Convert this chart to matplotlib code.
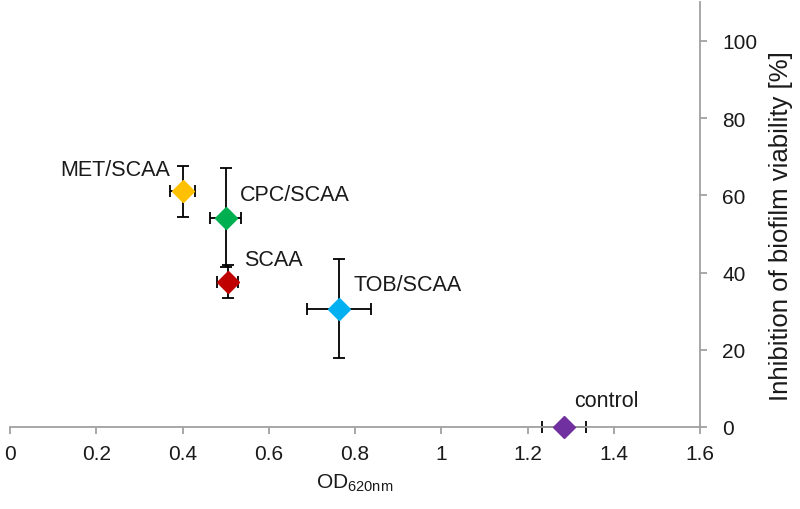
import matplotlib
matplotlib.use("Agg")
import matplotlib.pyplot as plt

plt.rcParams['font.family'] = ['Liberation Sans', 'DejaVu Sans']

labels = ["MET/SCAA", "CPC/SCAA", "SCAA", "TOB/SCAA", "control"]
od = [0.40, 0.50, 0.505, 0.763, 1.285]
od_err = [0.03, 0.036, 0.024, 0.075, 0.051]
inhib = [61.0, 54.2, 37.6, 30.6, 0.0]
inhib_err = [6.6, 12.8, 4.3, 12.8, 0.0]
colors = ["#FFC000", "#00B050", "#C00000", "#00B0F0", "#7030A0"]
# label offsets in pixels: (dx, dy, horizontal alignment)
label_offsets = [(-12, 22, 'right'), (14, 23, 'left'), (16, 22, 'left'), (14, 24, 'left'), (10, 26, 'left')]

FS = 15
fig = plt.figure(figsize=(8, 5.1), dpi=100)
ax = fig.add_axes([0.0125, 0.1608, 0.8625, 0.833])

for x, xe, y, ye, c in zip(od, od_err, inhib, inhib_err, colors):
    ax.errorbar(x, y, xerr=xe, yerr=ye if ye > 0 else None, fmt='none',
                ecolor='black', elinewidth=1.3, capsize=4, capthick=1.3, zorder=2,
                clip_on=False)
    ax.plot(x, y, marker='D', markersize=11, color=c, linestyle='none', zorder=3,
            clip_on=False)

for x, y, lab, (dx, dy, ha) in zip(od, inhib, labels, label_offsets):
    ax.annotate(lab, (x, y), xytext=(dx, dy), textcoords='offset pixels',
                ha=ha, va='center', fontsize=15.5, color='#1a1a1a')

ax.set_xlim(0, 1.6)
ax.set_ylim(0, 110)
ax.set_xticks([0, 0.2, 0.4, 0.6, 0.8, 1.0, 1.2, 1.4, 1.6])
ax.set_xticklabels(["0", "0.2", "0.4", "0.6", "0.8", "1", "1.2", "1.4", "1.6"])
ax.set_yticks([0, 20, 40, 60, 80, 100])

ax.spines['top'].set_visible(False)
ax.spines['left'].set_visible(False)
ax.spines['bottom'].set_color('#a0a0a0')
ax.spines['right'].set_color('#a0a0a0')
ax.spines['bottom'].set_linewidth(1.3)
ax.spines['right'].set_linewidth(1.3)
ax.yaxis.tick_right()
ax.yaxis.set_label_position('right')
ax.tick_params(axis='both', colors='#a0a0a0', labelcolor='#1a1a1a', labelsize=FS,
               length=5, width=1.3, direction='out')
ax.tick_params(axis='x', pad=7)
ax.tick_params(axis='y', pad=11)

ax.set_xlabel("OD$_{\\mathregular{620nm}}$", fontsize=FS, color='#1a1a1a', labelpad=6)
ax.set_ylabel("Inhibition of biofilm viability [%]", fontsize=18.5, color='#1a1a1a')
ax.yaxis.label.set_horizontalalignment('center')
ax.yaxis.label.set_verticalalignment('center')
ax.yaxis.set_label_coords(1.117, 0.475)

fig.savefig("out.png", dpi=100)
